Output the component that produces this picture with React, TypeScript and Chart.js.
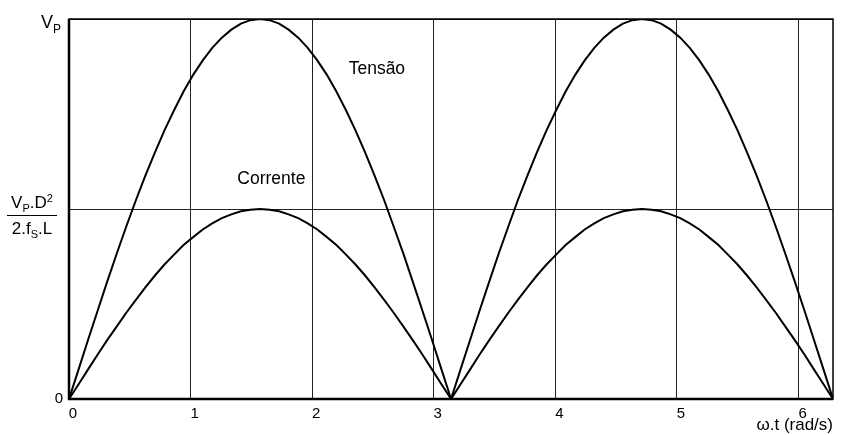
import { useEffect, useRef } from "react";
import { Chart, registerables } from "chart.js";

Chart.register(...registerables);

// ω.t (rad/s) sample points
const omegaT = [
  0, 0.079, 0.157, 0.236, 0.314, 0.393, 0.471, 0.55, 0.628, 0.707, 0.785,
  0.864, 0.942, 1.021, 1.1, 1.178, 1.257, 1.335, 1.414, 1.492, 1.571,
  1.649, 1.728, 1.806, 1.885, 1.963, 2.042, 2.121, 2.199, 2.278, 2.356,
  2.435, 2.513, 2.592, 2.67, 2.749, 2.827, 2.906, 2.985, 3.063, 3.142,
  3.22, 3.299, 3.377, 3.456, 3.534, 3.613, 3.691, 3.77, 3.848, 3.927,
  4.006, 4.084, 4.163, 4.241, 4.32, 4.398, 4.477, 4.555, 4.634, 4.712,
  4.791, 4.869, 4.948, 5.027, 5.105, 5.184, 5.262, 5.341, 5.419, 5.498,
  5.576, 5.655, 5.733, 5.812, 5.89, 5.969, 6.048, 6.126, 6.205, 6.283,
];
// Tensão (fraction of V_P)
const tensao = [
  0, 0.078, 0.156, 0.233, 0.309, 0.383, 0.454, 0.523, 0.588, 0.649, 0.707,
  0.76, 0.809, 0.853, 0.891, 0.924, 0.951, 0.972, 0.988, 0.997, 1,
  0.997, 0.988, 0.972, 0.951, 0.924, 0.891, 0.853, 0.809, 0.76, 0.707,
  0.649, 0.588, 0.523, 0.454, 0.383, 0.309, 0.233, 0.156, 0.078, 0,
  0.078, 0.156, 0.233, 0.309, 0.383, 0.454, 0.523, 0.588, 0.649, 0.707,
  0.76, 0.809, 0.853, 0.891, 0.924, 0.951, 0.972, 0.988, 0.997, 1,
  0.997, 0.988, 0.972, 0.951, 0.924, 0.891, 0.853, 0.809, 0.76, 0.707,
  0.649, 0.588, 0.523, 0.454, 0.383, 0.309, 0.233, 0.156, 0.078, 0,
];
// Corrente (peak = V_P.D²/2.f_S.L, drawn at half of V_P)
const corrente = [
  0, 0.039, 0.078, 0.117, 0.155, 0.191, 0.227, 0.261, 0.294, 0.325, 0.354,
  0.38, 0.405, 0.426, 0.446, 0.462, 0.476, 0.486, 0.494, 0.498, 0.5,
  0.498, 0.494, 0.486, 0.476, 0.462, 0.446, 0.426, 0.405, 0.38, 0.354,
  0.325, 0.294, 0.261, 0.227, 0.191, 0.155, 0.117, 0.078, 0.039, 0,
  0.039, 0.078, 0.117, 0.155, 0.191, 0.227, 0.261, 0.294, 0.325, 0.354,
  0.38, 0.405, 0.426, 0.446, 0.462, 0.476, 0.486, 0.494, 0.498, 0.5,
  0.498, 0.494, 0.486, 0.476, 0.462, 0.446, 0.426, 0.405, 0.38, 0.354,
  0.325, 0.294, 0.261, 0.227, 0.191, 0.155, 0.117, 0.078, 0.039, 0,
];
const xTicks = [0, 1, 2, 3, 4, 5, 6];
const yTicks = [0, 0.5, 1];
const xMax = 6.283;
const xTitle = "ω.t (rad/s)";
const seriesNames = ["Tensão", "Corrente"];

const FONT = "'Liberation Sans', Arial, sans-serif";

type Seg = { t: string; size: number; dy: number };

function drawRich(ctx: CanvasRenderingContext2D, segs: Seg[], x: number, y: number, align: "left" | "center" | "right") {
  let total = 0;
  const widths = segs.map((s) => {
    ctx.font = `${s.size}px ${FONT}`;
    const w = ctx.measureText(s.t).width;
    total += w;
    return w;
  });
  let cx = align === "left" ? x : align === "center" ? x - total / 2 : x - total;
  segs.forEach((s, i) => {
    ctx.font = `${s.size}px ${FONT}`;
    ctx.textAlign = "left";
    ctx.textBaseline = "alphabetic";
    ctx.fillText(s.t, cx, y + s.dy);
    cx += widths[i];
  });
  return total;
}

const framePlugin = {
  id: "frame",
  afterDraw(chart: any) {
    const { ctx, chartArea: a, scales } = chart;
    const xs = scales.x;
    const ys = scales.y;
    ctx.save();
    ctx.strokeStyle = "#000";
    ctx.fillStyle = "#000";
    // frame
    ctx.lineWidth = 1.5;
    ctx.strokeRect(a.left, a.top, a.right - a.left, a.bottom - a.top);
    ctx.lineWidth = 2.5;
    ctx.beginPath();
    ctx.moveTo(a.left, a.top);
    ctx.lineTo(a.left, a.bottom);
    ctx.lineTo(a.right, a.bottom);
    ctx.stroke();

    // y labels
    const y0 = ys.getPixelForValue(yTicks[0]);
    ctx.font = `15px ${FONT}`;
    ctx.textAlign = "right";
    ctx.textBaseline = "alphabetic";
    ctx.fillText("0", a.left - 6, y0 + 4);

    const y1 = ys.getPixelForValue(yTicks[2]);
    drawRich(ctx, [
      { t: "V", size: 18, dy: 0 },
      { t: "P", size: 12, dy: 5 },
    ], a.left - 8, y1 + 9, "right");

    const yh = ys.getPixelForValue(yTicks[1]);
    const fx = a.left - 37;
    drawRich(ctx, [
      { t: "V", size: 17, dy: 0 },
      { t: "P", size: 11, dy: 4 },
      { t: ".D", size: 17, dy: 0 },
      { t: "2", size: 11, dy: -6 },
    ], fx, yh - 1.5, "center");
    ctx.lineWidth = 1;
    ctx.beginPath();
    ctx.moveTo(fx - 25, yh + 6.5);
    ctx.lineTo(fx + 25, yh + 6.5);
    ctx.stroke();
    drawRich(ctx, [
      { t: "2.f", size: 17, dy: 0 },
      { t: "S", size: 11, dy: 4 },
      { t: ".L", size: 17, dy: 0 },
    ], fx, yh + 24.5, "center");

    // series labels
    ctx.font = `17.5px ${FONT}`;
    ctx.textAlign = "left";
    ctx.fillText(seriesNames[0], xs.getPixelForValue(2.3), ys.getPixelForValue(0.855));
    ctx.fillText(seriesNames[1], xs.getPixelForValue(1.384), ys.getPixelForValue(0.567));

    // x title
    ctx.font = `17px ${FONT}`;
    ctx.textAlign = "right";
    ctx.fillText(xTitle, a.right, a.bottom + 31);
    ctx.restore();
  },
};

export default function App() {
  const ref = useRef<HTMLCanvasElement>(null);
  useEffect(() => {
    if (!ref.current) return;
    const chart = new Chart(ref.current, {
      type: "scatter",
      data: {
        datasets: [
          {
            label: seriesNames[0],
            data: omegaT.map((x, i) => ({ x, y: tensao[i] })),
            showLine: true,
            borderColor: "#000",
            borderWidth: 2,
            pointRadius: 0,
            tension: 0,
          },
          {
            label: seriesNames[1],
            data: omegaT.map((x, i) => ({ x, y: corrente[i] })),
            showLine: true,
            borderColor: "#000",
            borderWidth: 2,
            pointRadius: 0,
            tension: 0,
          },
        ],
      },
      options: {
        animation: false,
        responsive: false,
        maintainAspectRatio: false,
        layout: { padding: { left: 69, right: 13, top: 19, bottom: 6 } },
        plugins: { legend: { display: false }, tooltip: { enabled: false } },
        scales: {
          x: {
            type: "linear",
            min: 0,
            max: xMax,
            afterBuildTicks: (s: any) => {
              s.ticks = xTicks.map((v) => ({ value: v }));
            },
            grid: { color: "#222", lineWidth: 1, drawTicks: false },
            border: { display: false },
            ticks: {
              color: "#000",
              font: { family: FONT, size: 15 },
              padding: 6,
              labelOffset: 4,
              maxRotation: 0,
              autoSkip: false,
            },
          },
          y: {
            type: "linear",
            min: 0,
            max: 1,
            afterBuildTicks: (s: any) => {
              s.ticks = yTicks.map((v) => ({ value: v }));
            },
            grid: { color: "#222", lineWidth: 1, drawTicks: false },
            border: { display: false },
            ticks: { display: false },
          },
        },
      },
      plugins: [framePlugin],
    });
    return () => chart.destroy();
  }, []);
  return (
    <div style={{ position: "absolute", left: 0, top: 0, background: "#fff" }}>
      <canvas ref={ref} width={846} height={435} style={{ display: "block" }} />
    </div>
  );
}
